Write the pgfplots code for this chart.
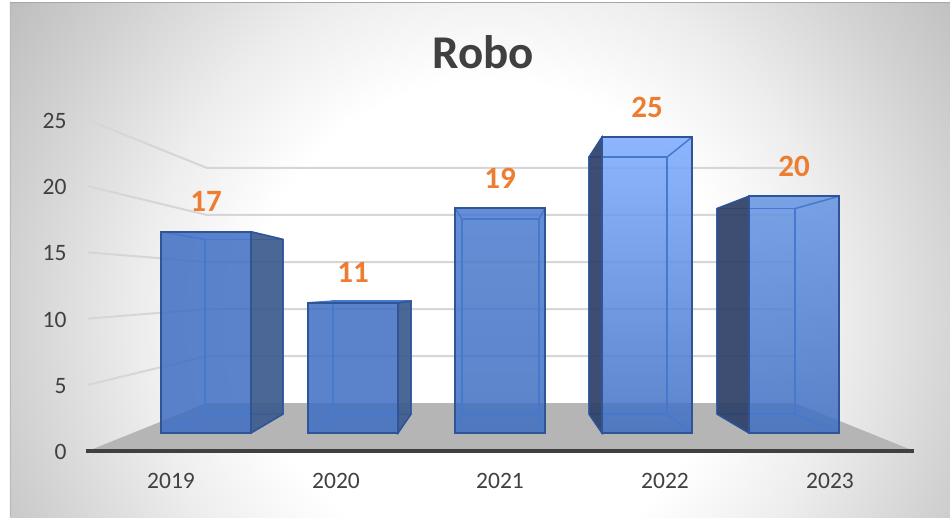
\documentclass[border=0pt]{standalone}
\usepackage{fontspec}
\setmainfont{Carlito}
\usepackage{pgfplots}
\usepackage{pgfplotstable}
\pgfplotsset{compat=1.18}
\definecolor{txt}{HTML}{404040}
\definecolor{lab}{HTML}{ED7D31}
\definecolor{gridc}{HTML}{D6D6D6}
\definecolor{floorc}{HTML}{B5B5B5}
\definecolor{edge}{HTML}{2F5597}
\definecolor{inner}{HTML}{4678CE}
\definecolor{sideR}{HTML}{3C5B8D}
\definecolor{sideL}{HTML}{2E4068}
\definecolor{b0}{HTML}{3E6EC3}
\definecolor{b1}{HTML}{4C7BCF}
\definecolor{b2}{HTML}{7BAAFF}
\definecolor{b3}{HTML}{6493E4}
\definecolor{b4}{HTML}{3F6EC2}

\pgfdeclareradialshading{bgrad}{\pgfpoint{0bp}{0bp}}{%
  color(0bp)=(white);
  color(10bp)=(white);
  color(14.6bp)=(black!7);
  color(20bp)=(black!18);
  color(23.7bp)=(black!25);
  color(50bp)=(black!25)}

% value, front x, back x, colour
\newcommand{\sideface}[4]{%
  \pgfmathsetmacro{\ft}{1.36+0.894*#1}
  \pgfmathsetmacro{\bt}{2.79+0.776*#1}
  \addplot[fill=#4,fill opacity=.92,draw=edge,line width=1.4pt] coordinates
    {(#2,1.36) (#3,2.79) (#3,\bt) (#2,\ft)} -- cycle;
}
% value, front left/right, back left/right (px), top and bottom colour
\newcommand{\barbox}[7]{%
  \pgfmathsetmacro{\ft}{1.36+0.894*#1}
  \pgfmathsetmacro{\bt}{2.79+0.776*#1}
  \addplot[shade,top color=#6,bottom color=#7,fill opacity=.85,draw=none] coordinates
    {(#2,1.36) (#3,1.36) (#3,\ft) (#2,\ft)} -- cycle;
  \addplot[inner,line width=1.5pt] coordinates
    {(#4,2.79) (#5,2.79) (#5,\bt) (#4,\bt) (#4,2.79)};
  \addplot[inner,line width=1.5pt] coordinates {(#2,1.36) (#4,2.79)};
  \addplot[inner,line width=1.5pt] coordinates {(#3,1.36) (#5,2.79)};
  \addplot[inner,line width=1.5pt] coordinates {(#2,\ft) (#4,\bt)};
  \addplot[inner,line width=1.5pt] coordinates {(#3,\ft) (#5,\bt)};
}
\newcommand{\barfront}[3]{%
  \pgfmathsetmacro{\ft}{1.36+0.894*#1}
  \addplot[edge,line width=2pt] coordinates
    {(#2,1.36) (#3,1.36) (#3,\ft) (#2,\ft)} -- cycle;
}

\pgfplotstableread{
cx  v
206 17
353 11
500 19
647 25
794 20
}\labels

\begin{document}
\begin{tikzpicture}
\useasboundingbox (-86pt,-66pt) rectangle (864pt,451pt);
\fill[white] (-86pt,-66pt) rectangle (864pt,451pt);
\begin{scope}
  \clip (-76pt,-66pt) rectangle (864pt,448pt);
  \shade[shading=bgrad] (-196pt,-469pt) rectangle (1004pt,731pt);
\end{scope}
\draw[black!35,line width=1pt] (-76pt,448pt) -- (864pt,448pt);
\draw[black!28,line width=1.5pt] (-75.3pt,-66pt) -- (-75.3pt,448pt);

\begin{axis}[
  at={(0pt,0pt)}, anchor=origin,
  scale only axis, width=828pt, height=331pt,
  xmin=86, xmax=914, ymin=0, ymax=25,
  clip=false,
  axis lines=left,
  axis line style={draw=none},
  major tick length=0pt,
  xtick={171,336,500,665,830},
  xticklabels={2019,2020,2021,2022,2023},
  ytick={0,5,10,15,20,25},
  /pgf/number format/assume math mode=true,
  tick label style={font=\fontsize{23.5}{27}\selectfont,text=txt},
  xticklabel style={anchor=center,yshift=-30pt},
  yticklabel style={anchor=east,xshift=-16pt,yshift=-1pt},
  title={\textbf{Robo}},
  title style={at={(0.4795,1.187)},anchor=center,font=\fontsize{47}{54}\selectfont,text=txt},
]
% floor and walls
\addplot[fill=floorc,draw=none] coordinates {(88,0) (207,3.625) (795,3.625) (914,0)} -- cycle;
\addplot[txt,line width=3.5pt] coordinates {(86,0) (914,0)};
\addplot[gridc,line width=2pt] coordinates {(88,5) (207,7.175) (795,7.175)};
\addplot[gridc,line width=2pt] coordinates {(88,10) (207,10.725) (795,10.725)};
\addplot[gridc,line width=2pt] coordinates {(88,15) (207,14.275) (795,14.275)};
\addplot[gridc,line width=2pt] coordinates {(88,20) (207,17.825) (795,17.825)};
\addplot[gridc,line width=2pt] coordinates {(88,25) (207,21.375) (795,21.375)};
% bars
\barbox{17}{161}{251}{205}{283}{b0}{b0}
\sideface{17}{251}{283}{sideR}
\barfront{17}{161}{251}
\barbox{11}{308}{398}{333}{411}{b0}{b0}
\sideface{11}{398}{411}{sideR}
\barfront{11}{308}{398}
\barbox{19}{455}{545}{462}{539}{b1}{b4}
\barfront{19}{455}{545}
\barbox{25}{602}{692}{589}{667}{b2}{b4}
\sideface{25}{602}{589}{sideL}
\barfront{25}{602}{692}
\barbox{20}{749}{839}{717}{795}{b3}{b4}
\sideface{20}{749}{717}{sideL}
\barfront{20}{749}{839}
% labels
\addplot[draw=none,
  nodes near coords,
  point meta=explicit symbolic,
  every node near coord/.append style={anchor=center,yshift=30pt,
    font=\fontsize{31}{35}\selectfont\bfseries,text=lab},
] table[x=cx,y expr=1.36+0.894*\thisrow{v},meta=v] {\labels};
\end{axis}
\end{tikzpicture}
\end{document}
